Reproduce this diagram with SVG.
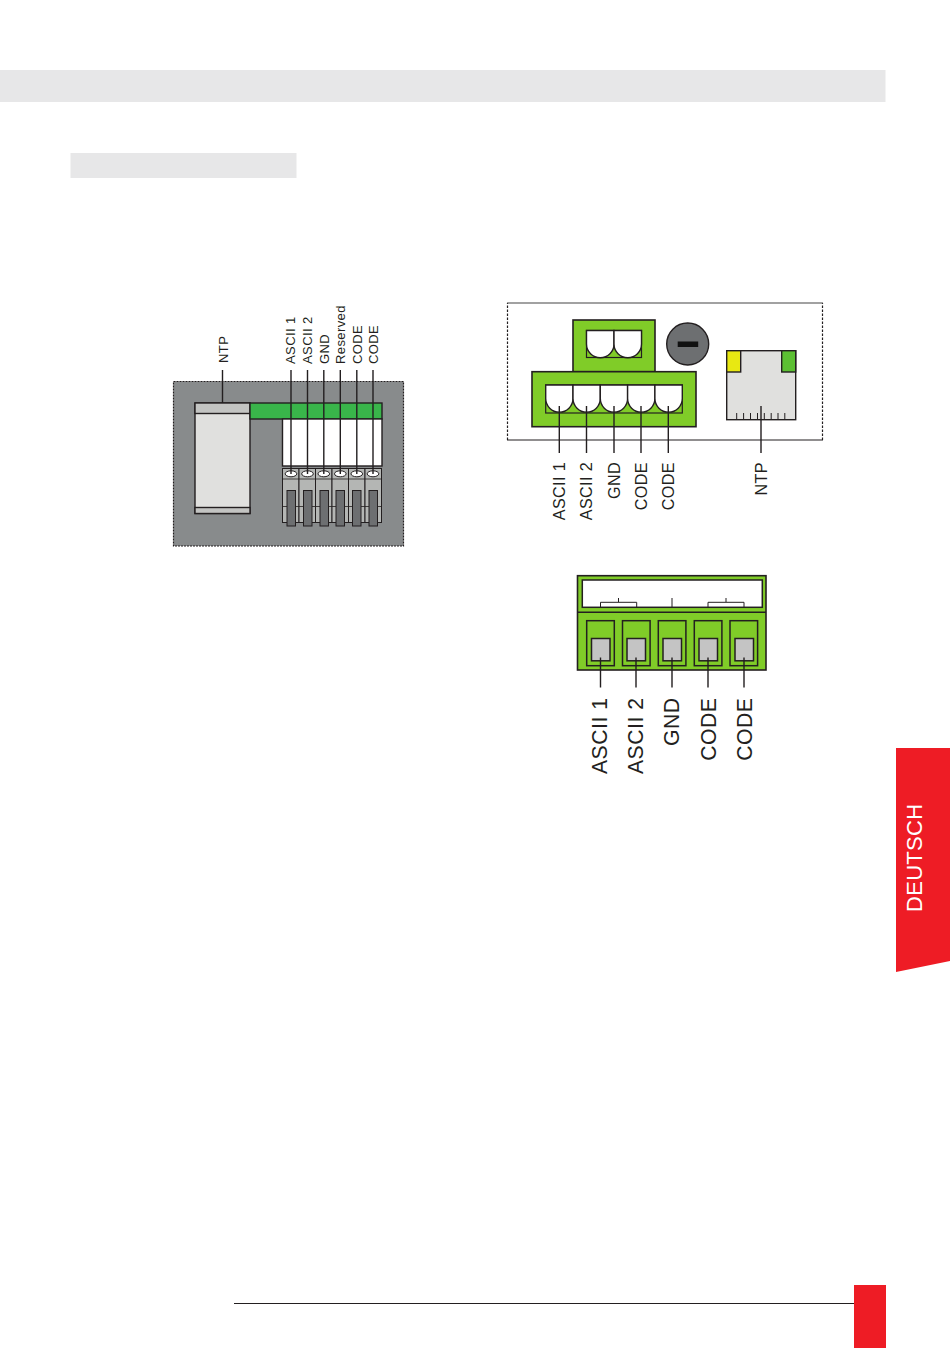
<svg xmlns="http://www.w3.org/2000/svg" width="950" height="1348" viewBox="0 0 950 1348">
<style>
text{font-family:"Liberation Sans",Arial,sans-serif;fill:#231f20}
.s{font-size:13px;letter-spacing:.4px}
.m{font-size:16.2px;letter-spacing:.35px;text-anchor:end}
.b{font-size:21.2px;letter-spacing:.5px;text-anchor:end}
.o{stroke:#231f20;stroke-width:1.4}
.c{stroke:#231f20;stroke-width:1.4;fill:none}
.g{fill:#80cc28;stroke:#231f20;stroke-width:1.6}
.w{fill:#fff;stroke:#231f20;stroke-width:1.4}
.t{fill:#b4b6b4;stroke:#231f20;stroke-width:1}
.d{fill:#6d6f71;stroke:#231f20;stroke-width:1}
.e{fill:#fff;stroke:#231f20;stroke-width:1}
</style>
<g id="page">
<rect x="0" y="70" width="885.500" height="32" fill="#e7e7e8"/>
<rect x="70.500" y="153" width="226" height="25" fill="#e7e7e8"/>
<line x1="234" y1="1303.500" x2="854" y2="1303.500" stroke="#231f20" stroke-width="1"/>
<rect x="854" y="1285" width="32" height="63" fill="#ee1c25"/>
<polygon points="896,748 950,748 950,961 896,972" fill="#ee1c25"/>
<text x="0" y="0" transform="translate(922 912) rotate(-90)" style="font-size:22px;letter-spacing:.3px;fill:#fff">DEUTSCH</text>
</g>
<g id="top-view">
<rect x="173.500" y="381.500" width="230" height="164.500" fill="#888b8c" stroke="#231f20" stroke-width="1.200" stroke-dasharray="2 1"/>
<rect x="195" y="403" width="55" height="110.500" fill="#e0e0de" class="o"/>
<rect x="195" y="403" width="55" height="10.500" fill="#c3c4c2" class="o"/>
<rect x="195" y="507.500" width="55" height="6" fill="#c3c4c2" class="o"/>
<rect x="250" y="403" width="132" height="16" fill="#39b54a" class="o"/>
<rect x="282.500" y="419" width="99.500" height="47" fill="#fff" class="o"/>
<g id="terminals">
<rect class="t" x="282.500" y="468.500" width="16.500" height="54"/><rect class="t" x="299" y="468.500" width="16.500" height="54"/><rect class="t" x="315.500" y="468.500" width="16.500" height="54"/><rect class="t" x="332" y="468.500" width="16.500" height="54"/><rect class="t" x="348.500" y="468.500" width="16.500" height="54"/><rect class="t" x="365" y="468.500" width="16.500" height="54"/>
<line x1="282.500" y1="479" x2="381.500" y2="479" stroke="#231f20" stroke-width=".8"/>
<line x1="282.500" y1="506.500" x2="381.500" y2="506.500" stroke="#231f20" stroke-width=".8"/>
<ellipse class="e" cx="291" cy="473.800" rx="5.800" ry="3"/><ellipse class="e" cx="307.500" cy="473.800" rx="5.800" ry="3"/><ellipse class="e" cx="323.800" cy="473.800" rx="5.800" ry="3"/><ellipse class="e" cx="340.300" cy="473.800" rx="5.800" ry="3"/><ellipse class="e" cx="356.800" cy="473.800" rx="5.800" ry="3"/><ellipse class="e" cx="373" cy="473.800" rx="5.800" ry="3"/>
<rect class="d" x="287" y="490.500" width="8.500" height="35.500"/><rect class="d" x="303.500" y="490.500" width="8.500" height="35.500"/><rect class="d" x="320" y="490.500" width="8.500" height="35.500"/><rect class="d" x="336" y="490.500" width="8.500" height="35.500"/><rect class="d" x="352.500" y="490.500" width="8.500" height="35.500"/><rect class="d" x="369" y="490.500" width="8.500" height="35.500"/>
</g>
<g class="s">
<text transform="translate(227.500 363) rotate(-90)">NTP</text>
<text transform="translate(294.500 364) rotate(-90)">ASCII 1</text>
<text transform="translate(311.500 364) rotate(-90)">ASCII 2</text>
<text transform="translate(328.500 364) rotate(-90)">GND</text>
<text transform="translate(345 364) rotate(-90)">Reserved</text>
<text transform="translate(361.500 364) rotate(-90)">CODE</text>
<text transform="translate(378 364) rotate(-90)">CODE</text>
</g>
</g>
<g id="front-view">
<path d="M507.500 440V303" fill="none" stroke="#231f20" stroke-width="1.200" stroke-dasharray="2.500 1.500"/>
<path d="M822.500 440V303" fill="none" stroke="#231f20" stroke-width="1.200" stroke-dasharray="2.500 1.500"/>
<line x1="507" y1="303" x2="823" y2="303" stroke="#444" stroke-width="1.200"/>
<line x1="507" y1="440" x2="823" y2="440" stroke="#231f20" stroke-width="1.200"/>
<rect class="g" x="573" y="320" width="82" height="51.700"/>
<rect class="g" x="532" y="371.700" width="164" height="55"/>
<rect x="586.500" y="330.500" width="55" height="27" fill="#80cc28" stroke="#231f20" stroke-width="1.200"/>
<rect x="545.700" y="385" width="136.600" height="28" fill="#80cc28" stroke="#231f20" stroke-width="1.200"/>
<path class="w" d="M586.500 330.500H614V344A13.750 13.750 0 0 1 586.500 344Z"/>
<path class="w" d="M614 330.500H641.500V344A13.750 13.750 0 0 1 614 344Z"/>
<path class="w" d="M545.700 385H573V398.500A13.650 13.650 0 0 1 545.700 398.500Z"/>
<path class="w" d="M573 385H600.300V398.500A13.650 13.650 0 0 1 573 398.500Z"/>
<path class="w" d="M600.300 385H627.600V398.500A13.650 13.650 0 0 1 600.300 398.500Z"/>
<path class="w" d="M627.600 385H654.900V398.500A13.650 13.650 0 0 1 627.600 398.500Z"/>
<path class="w" d="M654.900 385H682.300V398.500A13.700 13.700 0 0 1 654.900 398.500Z"/>
<circle cx="687.700" cy="344" r="21" fill="#6d6f71" stroke="#231f20" stroke-width="1.400"/>
<rect x="677.700" y="341.500" width="20.500" height="5.500" fill="#111"/>
<rect x="726.700" y="350.700" width="69" height="69" fill="#e0e0de" class="o"/>
<rect x="726.700" y="350.700" width="14" height="21.300" fill="#e8e812" class="o"/>
<rect x="781.700" y="350.700" width="14" height="21.300" fill="#5cbf33" class="o"/>
<path d="M736.700 419V413M743.600 419V413M750.500 419V413M757.500 419V413M764.300 419V413M771.200 419V413M778 419V413M784.800 419V413" stroke="#231f20" stroke-width="1" fill="none"/>
<g class="m">
<text transform="translate(564.500 462) rotate(-90)">ASCII 1</text>
<text transform="translate(592 462) rotate(-90)">ASCII 2</text>
<text transform="translate(619.500 462) rotate(-90)">GND</text>
<text transform="translate(647 462) rotate(-90)">CODE</text>
<text transform="translate(674 462) rotate(-90)">CODE</text>
<text transform="translate(767 462) rotate(-90)">NTP</text>
</g>
</g>
<g id="connector-view">
<rect class="g" x="577.500" y="575.700" width="188.500" height="94.300" stroke-width="2"/>
<line x1="577.500" y1="612.300" x2="766" y2="612.300" stroke="#231f20" stroke-width="1.500"/>
<rect x="582.300" y="580" width="180" height="27.300" fill="#fff" stroke="#231f20" stroke-width="1.500"/>
<path d="M600.500 607V602.300H636.700V607M708 607V602.300H744V607M618.500 602V598M726 602V598M672 607V598" fill="none" stroke="#231f20" stroke-width="1"/>
<rect x="586.700" y="620.700" width="27.600" height="45" fill="none" stroke="#231f20" stroke-width="1.500"/>
<rect x="622.500" y="620.700" width="27.600" height="45" fill="none" stroke="#231f20" stroke-width="1.500"/>
<rect x="658.300" y="620.700" width="27.600" height="45" fill="none" stroke="#231f20" stroke-width="1.500"/>
<rect x="694.300" y="620.700" width="27.600" height="45" fill="none" stroke="#231f20" stroke-width="1.500"/>
<rect x="730" y="620.700" width="27.600" height="45" fill="none" stroke="#231f20" stroke-width="1.500"/>
<rect x="591.500" y="638.500" width="18.500" height="22.300" fill="#c4c4c4" stroke="#231f20" stroke-width="1.500"/>
<rect x="627" y="638.500" width="18.500" height="22.300" fill="#c4c4c4" stroke="#231f20" stroke-width="1.500"/>
<rect x="663" y="638.500" width="18.500" height="22.300" fill="#c4c4c4" stroke="#231f20" stroke-width="1.500"/>
<rect x="699" y="638.500" width="18.500" height="22.300" fill="#c4c4c4" stroke="#231f20" stroke-width="1.500"/>
<rect x="735" y="638.500" width="18.500" height="22.300" fill="#c4c4c4" stroke="#231f20" stroke-width="1.500"/>
<g class="b">
<text transform="translate(606.500 697.500) rotate(-90)">ASCII 1</text>
<text transform="translate(642.500 697.500) rotate(-90)">ASCII 2</text>
<text transform="translate(679 697.500) rotate(-90)">GND</text>
<text transform="translate(715.500 697.500) rotate(-90)">CODE</text>
<text transform="translate(751.500 697.500) rotate(-90)">CODE</text>
</g>
</g>
<g id="connectors" class="c">
<path d="M222.500 370V403M291 370V474M307.500 370V474M323.800 370V474M340.300 370V474M356.800 370V474M373 370V474"/>
<path d="M559.300 406V453M586.500 406V453M614 406V453M641 406V453M668.300 406V453M761 406V453"/>
<path d="M600.500 657.500V687.500M636 657.500V687.500M672 657.500V687.500M708 657.500V687.500M744 657.500V687.500"/>
</g>
</svg>
